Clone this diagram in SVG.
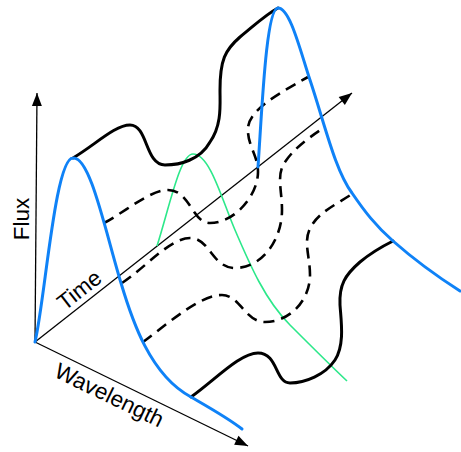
<svg xmlns="http://www.w3.org/2000/svg" width="461" height="452" viewBox="0 0 461 452">
<defs>
<marker id="arr" markerUnits="userSpaceOnUse" markerWidth="16" markerHeight="12" viewBox="-14 -6 16 12" refX="0" refY="0" orient="auto">
<path d="M0,0 L-13,-5 L-13,5 Z" fill="#000"/>
</marker>
</defs>
<style>
.axis{fill:none;stroke:#000;stroke-width:1.3;marker-end:url(#arr)}
.blue{fill:none;stroke:#0f82f7;stroke-width:3;stroke-linecap:round}
.black{fill:none;stroke:#000;stroke-width:3;stroke-linecap:round}
.dash{fill:none;stroke:#000;stroke-width:2.6;stroke-dasharray:11 7}
.green{fill:none;stroke:#2ce88a;stroke-width:1.6}
.lbl{font-family:"Liberation Sans",Arial,sans-serif;font-size:22.5px;fill:#000;text-anchor:middle}
</style>
<g id="connectors">
<path class="axis" d="M35,342 L37,93"/>
<path class="axis" d="M35,342 L352,93"/>
<path class="axis" d="M35,342 L248,446"/>
</g>
<g id="curves">
<path class="green" d="M157,246 C170,205 180,154 193,154 C210,154 222,200 235,230 C250,265 265,300 290,325 C310,345 330,365 347,381"/>
<path class="dash" d="M104,223 C125,212 150,190 168,190 C190,190 192,223 210,223 C235,223 258,195 258,172 C258,155 247,145 248,128 C249,112 270,98 308,77"/>
<path class="dash" d="M122,283 C145,268 170,238 190,238 C210,238 212,268 235,268 C262,268 282,240 282,210 C282,190 276,175 285,162 C293,150 305,140 325,127"/>
<path class="dash" d="M143,342 C170,322 200,295 222,295 C240,295 245,322 265,322 C290,322 310,300 310,275 C310,255 302,240 312,225 C320,212 335,205 352,194"/>
<path class="black" d="M73,158 C95,145 115,125 130,125 C148,125 145,165 165,165 C180,165 200,160 210,142 C222,125 220,105 220,90 C220,60 225,50 240,37 C255,25 265,15 278,8"/>
<path class="black" d="M191,397 C215,380 240,353 258,353 C278,353 275,383 290,383 C305,383 325,375 335,360 C345,345 341,320 340,305 C339,285 345,275 360,262 C372,252 385,245 393,241"/>
<path class="blue" d="M35,342 C45,300 55,158 73,158 C90,156 105,230 121,283 C132,320 150,375 191,397 C210,408 228,418 242,429"/>
<path class="blue" d="M258,167 C262,110 266,8 278,8 C290,8 300,50 310,80 C325,125 335,170 352,193 C365,212 375,225 393,241 C410,256 435,275 460,291"/>
</g>
<g id="labels">
<text class="lbl" transform="translate(29,219) rotate(-90)">Flux</text>
<text class="lbl" transform="translate(84,296) rotate(-38)">Time</text>
<text class="lbl" transform="translate(106,402) rotate(25.8)">Wavelength</text>
</g>
</svg>
